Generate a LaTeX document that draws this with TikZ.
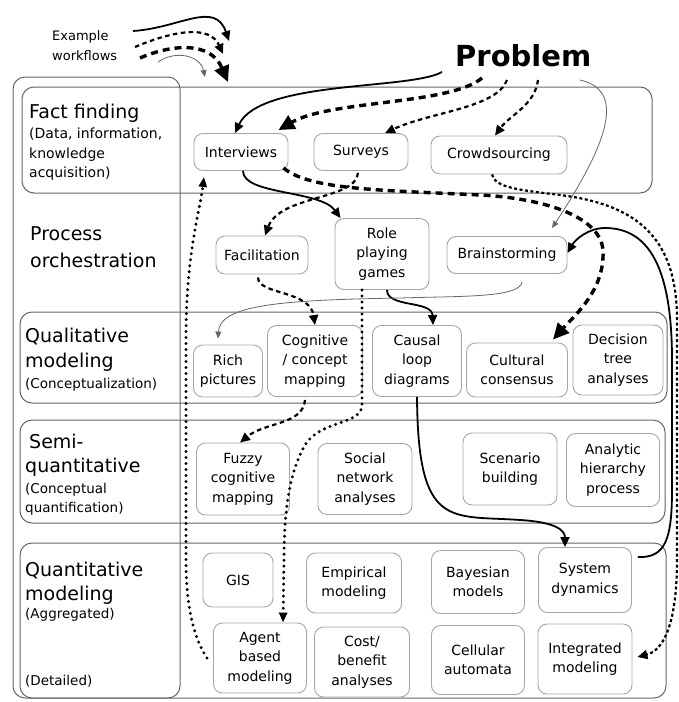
\documentclass[tikz,border=0pt]{standalone}
\usepackage{fontspec}
\setmainfont{DejaVu Sans}
\usetikzlibrary{arrows.meta,calc}
\begin{document}
\begin{tikzpicture}[x=1pt,y=-1pt,
  band/.style={draw=black!60, line width=1pt, rounded corners=12pt},
  box/.style={draw=black!35, line width=0.9pt, rounded corners=9pt, fill=white, align=center, inner sep=2pt, font=\fontsize{14}{19.5}\selectfont, text=black},
  big/.style={anchor=base west, font=\fontsize{19}{22}\selectfont, text=black, inner sep=0pt},
  small/.style={anchor=base west, font=\fontsize{13.5}{16}\selectfont, text=black, inner sep=0pt},
  wsolid/.style={line width=1.8pt, -{Triangle[length=10pt,width=9pt]}},
  wthick/.style={line width=3.4pt, dash pattern=on 7pt off 5pt, -{Triangle[length=16pt,width=15pt]}},
  wdash/.style={line width=2.2pt, dash pattern=on 4.5pt off 3.5pt, -{Triangle[length=10pt,width=9pt]}},
  wfine/.style={line width=2.2pt, dash pattern=on 3pt off 2.5pt, -{Triangle[length=10pt,width=9pt]}},
  wdot/.style={line width=3.3pt, line cap=round, dash pattern=on 0pt off 6pt, -{Triangle[length=10pt,width=8pt]}},
  wthin/.style={line width=0.8pt, draw=black!60, -{Triangle[length=7pt,width=6pt]}},
]
\useasboundingbox (0,0) rectangle (679,702);

% bands
\draw[band] (13,77) rectangle (180,698);
\draw[band] (22,87) rectangle (652,193);
\draw[band] (20,312) rectangle (667,403);
\draw[band] (20,420) rectangle (665,523);
\draw[band] (20,543) rectangle (666,698);

% band labels
\node[big] (ff1) at (29,118) {Fact finding};
\node[small, font=\fontsize{14}{16}\selectfont] (ff2) at (29,138) {(Data, information,};
\node[small, font=\fontsize{14}{16}\selectfont] (ff3) at (29,158) {knowledge};
\node[small, font=\fontsize{14}{16}\selectfont] (ff4) at (29,177) {acquisition)};
\node[big] (po1) at (30,240) {Process};
\node[big] (po2) at (30,267) {orchestration};
\node[big] (ql1) at (25,342) {Qualitative};
\node[big] (ql2) at (25,367) {modeling};
\node[small] (ql3) at (25,388) {(Conceptualization)};
\node[big] (sq1) at (29,448) {Semi-};
\node[big] (sq2) at (25,472) {quantitative};
\node[small] (sq3) at (25,493) {(Conceptual};
\node[small] (sq4) at (25,512) {quantification)};
\node[big] (qt1) at (25,576) {Quantitative};
\node[big] (qt2) at (25,600) {modeling};
\node[small] (qt3) at (25,618) {(Aggregated)};
\node[small] (qt4) at (25,685) {(Detailed)};

% problem and legend
\node[anchor=base west, inner sep=0pt, font=\fontsize{29}{34}\selectfont\bfseries, text=black] (prob) at (455,66) {Problem};
\node[anchor=base west, inner sep=0pt, font=\fontsize{13}{16}\selectfont, text=black] (ex1) at (52,40) {Example};
\node[anchor=base west, inner sep=0pt, font=\fontsize{13}{16}\selectfont, text=black] (ex2) at (52,60) {workflows};

\coordinate (p1) at ($(prob.base west)+(-13,6)$);
\coordinate (p2) at ($(prob.base west)+(27,12)$);
\coordinate (p3) at ($(prob.base west)+(52,14)$);
\coordinate (p4) at ($(prob.base west)+(83,14)$);
\coordinate (p5) at ($(prob.base west)+(125,14)$);

\coordinate (l1) at (133,31);  \coordinate (l1e) at (229,41);
\coordinate (l2) at (135,47);  \coordinate (l2e) at (223,54);
\coordinate (l3) at (140,58);  \coordinate (l3e) at (228,82);
\coordinate (l4) at (158,62);  \coordinate (l4e) at (205,77);

% nodes
\node[box, minimum width=94pt, minimum height=37pt] (intv) at (241,152) {Interviews};
\node[box, minimum width=94pt, minimum height=37pt] (surv) at (361,152) {Surveys};
\node[box, minimum width=136pt, minimum height=38pt] (crowd) at (499,155) {Crowdsourcing};
\node[box, minimum width=92pt, minimum height=38pt] (facil) at (262,255) {Facilitation};
\node[box, minimum width=94pt, minimum height=71pt] (role) at (382,254) {Role\\playing\\games};
\node[box, minimum width=120pt, minimum height=37pt] (brain) at (507,255) {Brainstorming};
\node[box, minimum width=69pt, minimum height=52pt] (rich) at (228,371) {Rich\\pictures};
\node[box, minimum width=95pt, minimum height=71pt] (cogn) at (315,361) {Cognitive\\/ concept\\mapping};
\node[box, minimum width=89pt, minimum height=71pt] (causal) at (417,361) {Causal\\loop\\diagrams};
\node[box, minimum width=101pt, minimum height=54pt] (cult) at (517,370) {Cultural\\consensus};
\node[box, minimum width=90pt, minimum height=70pt] (dec) at (618,360) {Decision\\tree\\analyses};
\node[box, minimum width=93pt, minimum height=72pt] (fuzzy) at (243,479) {Fuzzy\\cognitive\\mapping};
\node[box, minimum width=94pt, minimum height=71pt] (social) at (365,479) {Social\\network\\analyses};
\node[box, minimum width=94pt, minimum height=72pt] (scen) at (510,469) {Scenario\\building};
\node[box, minimum width=93pt, minimum height=73pt] (ahp) at (613,470) {Analytic\\hierarchy\\process};
\node[box, minimum width=70pt, minimum height=54pt] (gis) at (238,580) {GIS};
\node[box, minimum width=95pt, minimum height=60pt] (emp) at (354,583) {Empirical\\modeling};
\node[box, minimum width=93pt, minimum height=63pt] (bayes) at (478,582) {Bayesian\\models};
\node[box, minimum width=93pt, minimum height=65pt] (sysd) at (585,580) {System\\dynamics};
\node[box, minimum width=93pt, minimum height=70pt] (agent) at (260,658) {Agent\\based\\modeling};
\node[box, minimum width=95pt, minimum height=70pt] (cost) at (362,662) {Cost/\\benefit\\analyses};
\node[box, minimum width=93pt, minimum height=69pt] (cell) at (478,660) {Cellular\\automata};
\node[box, minimum width=94pt, minimum height=70pt] (integ) at (585,659) {Integrated\\modeling};

% legend arrows
\draw[wsolid] (l1) .. controls (180,28) and (215,0) .. (l1e);
\draw[wdash] (l2) .. controls (175,30) and (210,25) .. (l2e);
\draw[wthick] (l3) .. controls (170,45) and (210,40) .. (l3e);
\draw[wthin] (l4) .. controls (175,50) and (200,55) .. (l4e);

% solid workflow
\draw[wsolid] (p1) .. controls (410,90) and (260,80) .. ($(intv.north)+(-6,0)$);
\draw[wsolid] ($(intv.south)+(2,0)$) .. controls (243,195) and (320,190) .. ($(role.north west)+(6,0)$);
\draw[wsolid] ($(role.south)+(5,0)$) .. controls (387,308) and (432,300) .. ($(causal.north)+(16,0)$);
\draw[wsolid] (causal.south) .. controls (418,530) and (450,515) .. (520,520) .. controls (555,522) and (565,530) .. ($(sysd.north)+(-20,0)$);
\draw[wsolid] ($(sysd.north east)+(6,10)$) .. controls (665,558) and (672,540) .. (672,490) -- (672,360) .. controls (672,270) and (650,228) .. (605,228) .. controls (588,228) and (575,240) .. ($(brain.east)+(0,-2)$);

% thin workflow
\draw[wthin] (p5) .. controls (625,90) and (610,140) .. ($(brain.north)+(45,-8)$);
\draw[wthin] ($(brain.south)+(15,8)$) .. controls (520,298) and (460,296) .. (400,298) .. controls (280,300) and (220,305) .. ($(rich.north)+(-10,-6)$);

% thick dashed workflow
\draw[wthick] (p2) .. controls (450,105) and (330,100) .. ($(intv.north east)+(-10,-3)$);
\draw[wthick] ($(intv.south east)+(-5,-3)$) .. controls (310,190) and (380,190) .. (480,195) .. controls (540,198) and (600,215) .. (603,250) .. controls (605,290) and (575,315) .. ($(cult.north)+(36,-3)$);

% dashed workflow
\draw[wdash] (p3) .. controls (497,108) and (430,112) .. ($(surv.north)+(24,0)$);
\draw[wdash] ($(surv.south)+(-3,2)$) .. controls (356,200) and (280,195) .. ($(facil.north)+(3,0)$);
\draw[wdash] ($(facil.south)+(-4,3)$) .. controls (258,295) and (310,290) .. (cogn.north);
\draw[wdash] ($(cogn.south)+(-10,3)$) .. controls (303,425) and (265,422) .. ($(fuzzy.north)+(-3,0)$);
\draw[wdash] (p4) .. controls (535,105) and (510,115) .. ($(crowd.north)+(-4,0)$);

% fine dashed
\draw[wfine] ($(crowd.south)+(-7,0)$) .. controls (495,188) and (520,190) .. (560,195) .. controls (640,205) and (677,240) .. (677,320) -- (677,560) .. controls (677,620) and (665,650) .. ($(integ.east)+(5,-2)$);

% dotted workflow
\draw[wdot] ($(role.south)+(-20,0)$) -- (362,405) .. controls (362,425) and (320,420) .. (305,445) .. controls (292,468) and (284,500) .. (284,560) -- ($(agent.north)+(23,0)$);
\draw[wdot] ($(agent.west)+(-6,0)$) .. controls (195,640) and (186,610) .. (186,560) -- (186,330) .. controls (187,250) and (200,210) .. ($(intv.south)+(-37,6)$);
\end{tikzpicture}
\end{document}
